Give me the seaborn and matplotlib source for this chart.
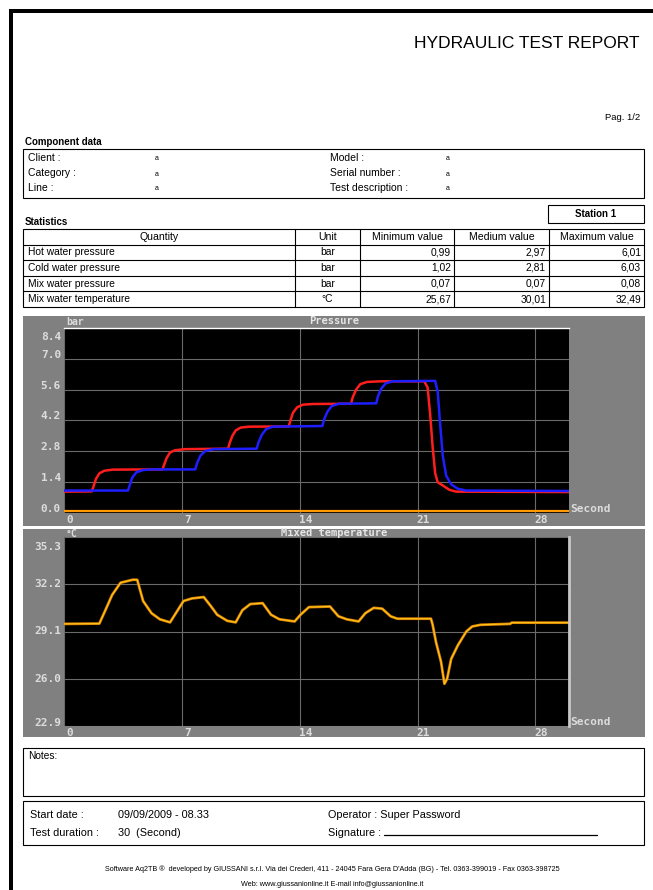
import matplotlib
matplotlib.use("Agg")
import matplotlib.pyplot as plt
from matplotlib.patches import Rectangle
import seaborn as sns

# ---------------- data ----------------
comp_left_labels = ["Client :", "Category :", "Line :"]
comp_left_values = ["a", "a", "a"]
comp_right_labels = ["Model :", "Serial number :", "Test description :"]
comp_right_values = ["a", "a", "a"]

stat_headers = ["Quantity", "Unit", "Minimum value", "Medium value", "Maximum value"]
stat_quantities = ["Hot water pressure", "Cold water pressure", "Mix water pressure", "Mix water temperature"]
stat_units = ["bar", "bar", "bar", "°C"]
stat_min = ["0,99", "1,02", "0,07", "25,67"]
stat_med = ["2,97", "2,81", "0,07", "30,01"]
stat_max = ["6,01", "6,03", "0,08", "32,49"]

time_ticks = [0, 7, 14, 21, 28]
pressure_ticks = [0.0, 1.4, 2.8, 4.2, 5.6, 7.0, 8.4]
temp_ticks = [22.9, 26.0, 29.1, 32.2, 35.3]

hot_t = [0, 1.65, 1.75, 1.9, 2.1, 2.4, 2.9, 5.85, 5.95, 6.1, 6.3, 6.6, 7.2, 9.75, 9.85, 10.0, 10.2,
         10.5, 11.0, 13.35, 13.45, 13.6, 13.85, 14.2, 14.8, 17.05, 17.15, 17.35, 17.6, 18.0, 18.8,
         21.4, 21.6, 21.75, 21.9, 22.05, 22.2, 22.5, 22.9, 23.3, 30]
hot_p = [0.97, 0.98, 1.2, 1.55, 1.8, 1.92, 1.97, 1.98, 2.2, 2.5, 2.75, 2.85, 2.9, 2.92, 3.2, 3.5, 3.75,
         3.88, 3.92, 3.93, 4.2, 4.55, 4.8, 4.92, 4.95, 4.96, 5.25, 5.6, 5.85, 5.95, 5.98,
         5.98, 5.7, 4.5, 3.0, 1.8, 1.4, 1.25, 1.05, 0.97, 0.95]

cold_t = [0, 3.8, 3.9, 4.05, 4.3, 4.7, 5.2, 7.8, 7.9, 8.1, 8.4, 8.9, 11.45, 11.55, 11.75, 12.0, 12.4,
          15.35, 15.45, 15.65, 15.9, 16.3, 18.55, 18.65, 18.85, 19.1, 19.5, 22.05, 22.2, 22.35,
          22.5, 22.7, 23.0, 23.4, 23.9, 30]
cold_p = [1.02, 1.02, 1.25, 1.6, 1.85, 1.95, 1.98, 1.98, 2.25, 2.6, 2.82, 2.9, 2.92, 3.2, 3.55, 3.8, 3.92,
          3.95, 4.25, 4.6, 4.85, 4.96, 4.98, 5.3, 5.65, 5.88, 5.98, 6.0, 5.5, 4.0,
          2.6, 1.7, 1.3, 1.1, 1.02, 1.0]

mix_t = [0, 30]
mix_p = [0.07, 0.07]

temp_t = [0, 2.1, 2.5, 2.86, 3.36, 4.1, 4.35, 4.7, 5.2, 5.7, 6.3, 6.7, 7.1, 7.6, 8.3, 8.7, 9.1, 9.7,
          10.2, 10.6, 11.07, 11.8, 12.3, 12.8, 13.7, 14.05, 14.55, 15.8, 16.3, 16.8, 17.5, 17.9,
          18.4, 18.9, 19.4, 19.8, 21.8, 21.9, 22.1, 22.4, 22.6, 22.76, 23.0, 23.4, 23.9, 24.25,
          24.75, 26.5, 26.6, 30]
temp_v = [29.6, 29.62, 30.6, 31.5, 32.3, 32.5, 32.49, 31.1, 30.3, 29.9, 29.7, 30.4, 31.1, 31.27, 31.36,
          30.8, 30.2, 29.8, 29.7, 30.5, 30.9, 30.96, 30.2, 29.9, 29.76, 30.2, 30.7, 30.74, 30.1,
          29.9, 29.76, 30.3, 30.65, 30.6, 30.1, 29.94, 29.94, 29.54, 28.4, 27.1, 25.67, 26.0,
          27.3, 28.2, 29.1, 29.43, 29.54, 29.6, 29.68, 29.68]

# ---------------- setup ----------------
sns.set_theme(style="white")
plt.rcParams["font.family"] = ["Liberation Sans", "DejaVu Sans"]

W, H = 653, 890
fig = plt.figure(figsize=(W / 100, H / 100), dpi=100)
fig.patch.set_facecolor("white")
page = fig.add_axes([0, 0, 1, 1])
page.set_xlim(0, W)
page.set_ylim(H, 0)
page.axis("off")


def rect(x0, y0, x1, y1, fc="none", ec="black", lw=0.8, z=1):
    page.add_patch(Rectangle((x0, y0), x1 - x0, y1 - y0, facecolor=fc, edgecolor=ec, lw=lw, zorder=z))


def txt(x, y, s, size=7, ha="left", weight="normal", color="black", **kw):
    page.text(x, y, s, fontsize=size, ha=ha, va="center", weight=weight, color=color, **kw)


# page border
rect(9, 9, 653, 13, fc="black", ec="none", lw=0)
rect(9, 9, 13, 890, fc="black", ec="none", lw=0)

txt(640, 43, "HYDRAULIC TEST REPORT", size=12.5, ha="right")
txt(640, 118, "Pag. 1/2", size=6.8, ha="right")

# component data
txt(25, 142, "Component data", size=7, weight="bold")
rect(23, 149, 644, 198)
comp_rows = [158, 173, 188]
for i in range(3):
    y = comp_rows[i]
    txt(28, y, comp_left_labels[i], size=7.5)
    txt(155, y + 1, comp_left_values[i], size=5)
    txt(330, y, comp_right_labels[i], size=7.5)
    txt(446, y + 1, comp_right_values[i], size=5)

# statistics
txt(25, 222, "Statistics", size=7, weight="bold")
rect(548, 205, 644, 223)
txt(596, 214, "Station 1", size=7, ha="center", weight="bold")
cols = [23, 295, 360, 454, 549, 644]
rows = [229 + 15.6 * i for i in range(6)]
rect(cols[0], rows[0], cols[-1], rows[-1])
for c in cols[1:-1]:
    page.plot([c, c], [rows[0], rows[-1]], color="black", lw=0.8)
for r in rows[1:-1]:
    page.plot([cols[0], cols[-1]], [r, r], color="black", lw=0.8)
for j, h in enumerate(stat_headers):
    txt((cols[j] + cols[j + 1]) / 2, (rows[0] + rows[1]) / 2, h, size=7.6, ha="center")
for i in range(4):
    yc = (rows[i + 1] + rows[i + 2]) / 2
    txt(28, yc, stat_quantities[i], size=7.4)
    txt((cols[1] + cols[2]) / 2, yc, stat_units[i], size=7.4, ha="center")
    txt(cols[3] - 3, yc, stat_min[i], size=7.4, ha="right")
    txt(cols[4] - 3, yc, stat_med[i], size=7.4, ha="right")
    txt(cols[5] - 3, yc, stat_max[i], size=7.4, ha="right")

# chart panels
PANEL = "#808080"
rect(23, 316, 645, 526, fc=PANEL, ec="none", lw=0, z=0)
rect(23, 529, 645, 737, fc=PANEL, ec="none", lw=0, z=0)


def px_axes(x0, y0, x1, y1):
    return fig.add_axes([x0 / W, 1 - y1 / H, (x1 - x0) / W, (y1 - y0) / H])


LBL = "#dcdcdc"
MONO = {"family": "DejaVu Sans Mono", "weight": "bold"}


def style_chart(ax, ylim, yticks, ylab_offsets, unit, unit_dy):
    ax.set_facecolor("black")
    ax.set_xlim(0, 30)
    ax.set_ylim(*ylim)
    ax.set_xticks(time_ticks)
    ax.set_yticks(yticks)
    ax.grid(True, color="#6a6a6a", lw=0.8)
    ax.tick_params(length=0, labelleft=False, labelbottom=False)
    for s in ax.spines.values():
        s.set_visible(False)
    for v, dy in zip(yticks, ylab_offsets):
        ax.annotate(f"{v:.1f}", xy=(0, v), xycoords=("axes fraction", "data"), xytext=(-3, dy),
                    textcoords="offset pixels", ha="right", va="center", color=LBL,
                    fontsize=8, annotation_clip=False, **MONO)
    for v in time_ticks:
        ax.annotate(f"{v}", xy=(v, 0), xycoords=("data", "axes fraction"), xytext=(6, -7),
                    textcoords="offset pixels", ha="center", va="center", color=LBL,
                    fontsize=8, annotation_clip=False, **MONO)
    ax.annotate("Second", xy=(1, 0), xycoords="axes fraction", xytext=(1, 4),
                textcoords="offset pixels", ha="left", va="center", color=LBL,
                fontsize=8, annotation_clip=False, **MONO)
    ax.annotate(unit, xy=(0, 1), xycoords="axes fraction", xytext=(2, unit_dy),
                textcoords="offset pixels", ha="left", va="center", color=LBL,
                fontsize=7, annotation_clip=False, **MONO)
    return ax


# pressure chart
axp = px_axes(64, 328, 569, 513)
style_chart(axp, (0, 8.4), pressure_ticks, [4, 4, 4, 4, 4, 4, -9], "bar", 6)
axp.spines["top"].set_visible(True)
axp.spines["top"].set_color("white")
axp.spines["top"].set_linewidth(1.0)
sns.lineplot(x=hot_t, y=hot_p, ax=axp, color="#ff1e1e", lw=1.8, estimator=None, sort=False)
sns.lineplot(x=cold_t, y=cold_p, ax=axp, color="#1e1eff", lw=1.8, estimator=None, sort=False)
sns.lineplot(x=mix_t, y=mix_p, ax=axp, color="#ff9a00", lw=1.6, estimator=None, sort=False)
axp.set_xlabel("")
axp.set_ylabel("")
fig.text(334 / W, 1 - 321 / H, "Pressure", fontsize=7.5, ha="center", va="center", color="#e6e6e6",
         zorder=5, **MONO)

# temperature chart
axt = px_axes(64, 537, 569, 726)
style_chart(axt, (22.9, 35.3), temp_ticks, [3, 0, 0, 0, -10], "°C", 3)
axt.spines["right"].set_visible(True)
axt.spines["right"].set_color("#c8c8c8")
axt.spines["right"].set_linewidth(2.0)
sns.lineplot(x=temp_t, y=temp_v, ax=axt, color="#d27a00", lw=2.0, estimator=None, sort=False)
sns.lineplot(x=temp_t, y=temp_v, ax=axt, color="#ffc21a", lw=0.9, estimator=None, sort=False)
axt.set_xlabel("")
axt.set_ylabel("")
fig.text(334 / W, 1 - 533 / H, "Mixed temperature", fontsize=7.5, ha="center", va="center",
         color="#e6e6e6", zorder=5, **MONO)

# notes & info
rect(23, 748, 644, 796)
txt(28, 756, "Notes:", size=7.3)
rect(23, 801, 644, 845)
txt(30, 815, "Start date :", size=7.8)
txt(118, 815, "09/09/2009 - 08.33", size=7.8)
txt(328, 815, "Operator : Super Password", size=7.8)
txt(30, 833, "Test duration :", size=7.8)
txt(118, 833, "30  (Second)", size=7.8)
txt(328, 833, "Signature :", size=7.8)
page.plot([384, 597], [835, 835], color="black", lw=0.9)

txt(332, 869, "Software Aq2TB \u00ae  developed by GIUSSANI s.r.l. Via dei Crederi, 411 - 24045 Fara Gera D'Adda (BG) - "
    "Tel. 0363-399019 - Fax 0363-398725", size=5.2, ha="center")
txt(332, 884, "Web: www.giussanionline.it E-mail info@giussanionline.it", size=5.2, ha="center")

fig.savefig("out.png", dpi=100, facecolor="white")
